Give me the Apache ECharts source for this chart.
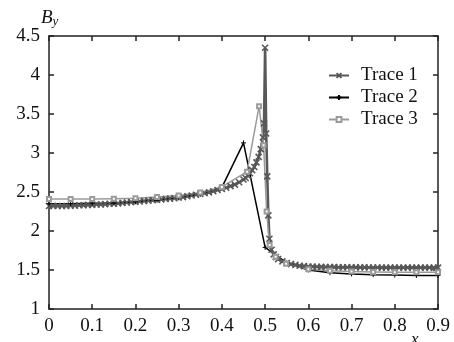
<!DOCTYPE html>
<html><head><meta charset="utf-8">
<script src="https://cdn.jsdelivr.net/npm/echarts@6/dist/echarts.min.js"></script>
<style>html,body{margin:0;padding:0;background:#fff}#c{width:454px;height:342px}</style>
</head><body><div id="c"></div>
<script>
var xTicks = ['0','0.1','0.2','0.3','0.4','0.5','0.6','0.7','0.8','0.9'];
var yTicks = ['1','1.5','2','2.5','3','3.5','4','4.5'];
var seriesNames = ['Trace 1','Trace 2','Trace 3'];

var t1x = [0,0.01,0.02,0.03,0.04,0.05,0.06,0.07,0.08,0.09,0.10,0.11,0.12,0.13,0.14,0.15,0.16,0.17,0.18,0.19,0.20,0.21,0.22,0.23,0.24,0.25,0.26,0.27,0.28,0.29,0.30,0.31,0.32,0.33,0.34,0.35,0.36,0.37,0.38,0.39,0.40,0.41,0.42,0.43,0.44,0.45,0.455,0.46,0.465,0.47,0.475,0.48,0.485,0.49,0.495,0.4975,0.5,0.5025,0.505,0.5075,0.51,0.515,0.52,0.525,0.53,0.54,0.55,0.56,0.57,0.58,0.59,0.60,0.61,0.62,0.63,0.64,0.65,0.66,0.67,0.68,0.69,0.70,0.71,0.72,0.73,0.74,0.75,0.76,0.77,0.78,0.79,0.80,0.81,0.82,0.83,0.84,0.85,0.86,0.87,0.88,0.89,0.90];
var t1y = [2.32,2.32,2.32,2.32,2.32,2.325,2.325,2.33,2.33,2.335,2.335,2.34,2.34,2.345,2.35,2.35,2.355,2.36,2.365,2.37,2.375,2.38,2.385,2.39,2.395,2.40,2.405,2.41,2.415,2.42,2.43,2.435,2.445,2.455,2.465,2.475,2.485,2.495,2.51,2.525,2.54,2.555,2.575,2.595,2.625,2.66,2.68,2.71,2.74,2.78,2.82,2.88,2.95,3.05,3.2,3.38,4.35,3.25,2.7,2.2,1.9,1.76,1.7,1.665,1.64,1.61,1.59,1.575,1.565,1.555,1.55,1.545,1.543,1.541,1.54,1.539,1.538,1.537,1.536,1.535,1.535,1.534,1.534,1.533,1.533,1.532,1.532,1.532,1.531,1.531,1.531,1.53,1.53,1.53,1.53,1.53,1.53,1.53,1.53,1.53,1.53,1.53];

var t2x = [0,0.05,0.1,0.15,0.2,0.25,0.3,0.35,0.4,0.45,0.5,0.55,0.6,0.65,0.7,0.75,0.8,0.85,0.9];
var t2y = [2.35,2.35,2.355,2.36,2.375,2.395,2.425,2.47,2.56,3.13,1.79,1.59,1.5,1.465,1.45,1.44,1.435,1.43,1.43];

var t3x = [0,0.05,0.1,0.15,0.2,0.25,0.3,0.35,0.4,0.4583,0.4861,0.4965,0.5035,0.5104,0.5243,0.5486,0.6,0.65,0.7,0.75,0.8,0.85,0.9];
var t3y = [2.41,2.41,2.41,2.415,2.42,2.435,2.455,2.495,2.565,2.76,3.6,3.1,2.25,1.82,1.67,1.58,1.51,1.49,1.48,1.475,1.47,1.47,1.47];

function pairs(xs, ys){ return xs.map(function(x,i){ return [x, ys[i]]; }); }

var FONT = 'Liberation Serif';
var axisLineStyle = {color:'#222', width:1.5};
function xAxisCfg(pos, labels){
  return {type:'value', position:pos, min:0, max:0.9, interval:0.1,
    axisLine:{show:true, onZero:false, lineStyle:axisLineStyle},
    axisTick:{show:true, inside:true, length:5, lineStyle:axisLineStyle},
    axisLabel:{show:labels, margin:8, color:'#111', fontSize:19, fontFamily:FONT,
      formatter:function(v){ var i = Math.round(v*10); return xTicks[i]; }},
    splitLine:{show:false}};
}
function yAxisCfg(pos, labels){
  return {type:'value', position:pos, min:1, max:4.5, interval:0.5,
    axisLine:{show:true, onZero:false, lineStyle:axisLineStyle},
    axisTick:{show:true, inside:true, length:5, lineStyle:axisLineStyle},
    axisLabel:{show:labels, margin:9, color:'#111', fontSize:19, fontFamily:FONT,
      formatter:function(v){ var i = Math.round((v-1)*2); return yTicks[i]; }},
    splitLine:{show:false}};
}

var chart = echarts.init(document.getElementById('c'));
chart.setOption({
  animation:false,
  backgroundColor:'#fff',
  textStyle:{fontFamily:FONT},
  grid:{left:49, right:16, top:36, bottom:33, containLabel:false},
  xAxis:[xAxisCfg('bottom', true), xAxisCfg('top', false)],
  yAxis:[yAxisCfg('left', true), yAxisCfg('right', false)],
  legend:{orient:'vertical', left:323, top:60, itemWidth:20, itemHeight:6, itemGap:1,
    data:seriesNames,
    textStyle:{fontFamily:FONT, fontSize:19, color:'#111', lineHeight:21, padding:[0,0,0,7]}},
  graphic:[
    {type:'text', left:41, top:8, style:{rich:{b:{fontFamily:FONT, fontStyle:'italic', fontSize:19, fill:'#111'}, s:{fontFamily:FONT, fontStyle:'italic', fontSize:13, fill:'#111', padding:[8,0,0,0]}}, text:'{b|B}{s|y}'}},
    {type:'text', left:411, top:331, style:{text:'x', fontFamily:FONT, fontStyle:'italic', fontSize:17, fill:'#111'}}
  ],
  series:[
    {name:seriesNames[0], type:'line', xAxisIndex:0, yAxisIndex:0, data:pairs(t1x,t1y),
      symbol:'path://M0,0L10,10M10,0L0,10', symbolSize:6, showAllSymbol:true,
      lineStyle:{color:'#585858', width:2.6},
      itemStyle:{color:'#585858', borderColor:'#585858', borderWidth:1.6}},
    {name:seriesNames[1], type:'line', xAxisIndex:0, yAxisIndex:0, data:pairs(t2x,t2y),
      symbol:'path://M5,0L5,10M0,5L10,5', symbolSize:5, showAllSymbol:true,
      lineStyle:{color:'#000', width:1.5},
      itemStyle:{color:'#000', borderColor:'#000', borderWidth:1}},
    {name:seriesNames[2], type:'line', xAxisIndex:0, yAxisIndex:0, data:pairs(t3x,t3y),
      symbol:'emptyRect', symbolSize:4, showAllSymbol:true,
      lineStyle:{color:'#9a9a9a', width:1.5},
      itemStyle:{color:'#9a9a9a', borderColor:'#9a9a9a', borderWidth:1}}
  ]
});
</script></body></html>
